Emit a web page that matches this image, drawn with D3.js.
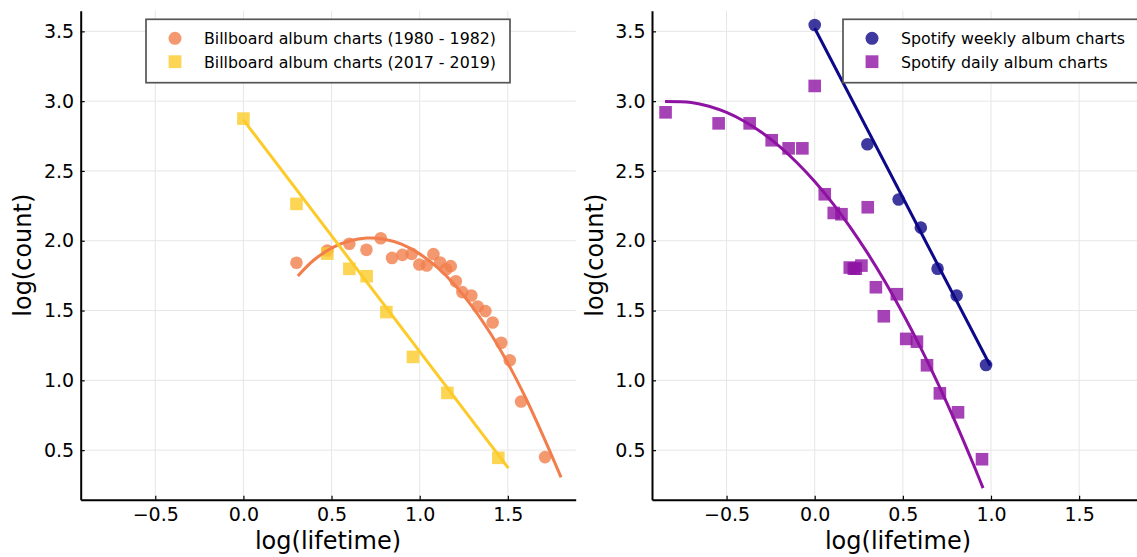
<!DOCTYPE html>
<html>
<head>
<meta charset="utf-8">
<script src="https://cdn.jsdelivr.net/npm/d3@7"></script>
<style>
  html, body { margin: 0; padding: 0; background: #fff; }
  svg { display: block; font-family: "DejaVu Sans", sans-serif; }
</style>
</head>
<body>
<script>
// ---------------- DATA ----------------
const xTicks = [-0.5, 0.0, 0.5, 1.0, 1.5];
const yTicks = [0.5, 1.0, 1.5, 2.0, 2.5, 3.0, 3.5];

// Billboard 1980-1982 (circles)
const bb1980X = [0.301, 0.476, 0.601, 0.698, 0.779, 0.843, 0.902, 0.955, 0.998, 1.040, 1.078, 1.116, 1.150, 1.176, 1.205, 1.242, 1.293, 1.329, 1.373, 1.414, 1.463, 1.511, 1.575, 1.711];
const bb1980Y = [1.842, 1.930, 1.978, 1.935, 2.018, 1.877, 1.899, 1.906, 1.830, 1.823, 1.904, 1.844, 1.796, 1.818, 1.710, 1.632, 1.608, 1.529, 1.496, 1.414, 1.269, 1.144, 0.848, 0.450];
// fitted curve
const bb1980FitX = [0.309, 0.4, 0.5, 0.6, 0.7, 0.8, 0.9, 1.0, 1.1, 1.2, 1.3, 1.4, 1.5, 1.6, 1.7, 1.802];
const bb1980FitY = [1.748, 1.862, 1.947, 1.998, 2.020, 2.011, 1.974, 1.906, 1.809, 1.682, 1.525, 1.339, 1.123, 0.877, 0.602, 0.305];

// Billboard 2017-2019 (squares)
const bb2017X = [0.000, 0.301, 0.476, 0.601, 0.699, 0.811, 0.962, 1.157, 1.446];
const bb2017Y = [2.875, 2.264, 1.908, 1.799, 1.746, 1.489, 1.168, 0.910, 0.445];
const bb2017FitX = [0.0, 1.503];
const bb2017FitY = [2.866, 0.371];

// Spotify weekly (circles)
const spWeeklyX = [0.000, 0.299, 0.476, 0.602, 0.697, 0.805, 0.972];
const spWeeklyY = [3.546, 2.691, 2.295, 2.094, 1.800, 1.607, 1.110];
const spWeeklyFitX = [0.0, 0.996];
const spWeeklyFitY = [3.522, 1.105];

// Spotify daily (squares)
const spDailyX = [-0.846, -0.545, -0.369, -0.244, -0.148, -0.070, 0.000, 0.057, 0.108, 0.152, 0.301, 0.199, 0.222, 0.233, 0.265, 0.347, 0.392, 0.466, 0.519, 0.580, 0.637, 0.710, 0.813, 0.949];
const spDailyY = [2.920, 2.841, 2.841, 2.720, 2.662, 2.662, 3.109, 2.333, 2.199, 2.190, 2.240, 1.808, 1.800, 1.800, 1.822, 1.667, 1.459, 1.617, 1.297, 1.277, 1.108, 0.907, 0.771, 0.435];
const spDailyFitX = [-0.849, -0.7, -0.6, -0.5, -0.4, -0.3, -0.2, -0.1, 0.0, 0.1, 0.2, 0.3, 0.4, 0.5, 0.6, 0.7, 0.8, 0.9, 0.955];
const spDailyFitY = [2.998, 2.991, 2.964, 2.919, 2.856, 2.775, 2.676, 2.559, 2.424, 2.271, 2.100, 1.911, 1.704, 1.479, 1.236, 0.975, 0.696, 0.399, 0.228];

const leftLegend = ["Billboard album charts (1980 - 1982)", "Billboard album charts (2017 - 2019)"];
const rightLegend = ["Spotify weekly album charts", "Spotify daily album charts"];

// ---------------- STYLE ----------------
const C_ORANGE = "#f17e4c";
const C_YELLOW = "#fccb2a";
const C_NAVY = "#0d0887";
const C_PURPLE = "#8f13a3";
const MARK_OP = 0.8;

const W = 1137, H = 557;
const svg = d3.select("body").append("svg").attr("width", W).attr("height", H);

const xDomain = [-0.923, 1.885];
const yDomain = [0.145, 3.648];
const plotTop = 10.7, plotBottom = 499.7;

function zip(xs, ys) { return xs.map((x, i) => [x, ys[i]]); }

function makePanel(left, right, cfg) {
  const g = svg.append("g");
  const x = d3.scaleLinear().domain(xDomain).range([left, right]);
  const y = d3.scaleLinear().domain(yDomain).range([plotBottom, plotTop]);

  // grid
  g.append("g").selectAll("line").data(xTicks).join("line")
    .attr("x1", d => x(d)).attr("x2", d => x(d))
    .attr("y1", plotTop).attr("y2", plotBottom)
    .attr("stroke", "#e6e6e6").attr("stroke-width", 1);
  g.append("g").selectAll("line").data(yTicks).join("line")
    .attr("x1", left).attr("x2", right)
    .attr("y1", d => y(d)).attr("y2", d => y(d))
    .attr("stroke", "#e6e6e6").attr("stroke-width", 1);

  const fmt = d3.format(".1f");
  const xAxis = g.append("g").attr("transform", `translate(0,${plotBottom})`)
    .call(d3.axisBottom(x).tickValues(xTicks).tickFormat(fmt).tickSizeInner(-4).tickSizeOuter(0).tickPadding(8));
  const yAxis = g.append("g").attr("transform", `translate(${left},0)`)
    .call(d3.axisLeft(y).tickValues(yTicks).tickFormat(fmt).tickSizeInner(-4).tickSizeOuter(0).tickPadding(6.5));
  [xAxis, yAxis].forEach(a => {
    a.select(".domain").attr("stroke", "#000").attr("stroke-width", 2);
    a.selectAll(".tick line").attr("stroke", "#000").attr("stroke-width", 1.2);
    a.selectAll(".tick text").attr("fill", "#000").style("font-size", "19px")
      .style("font-family", "DejaVu Sans, sans-serif");
  });

  // axis titles
  g.append("text").attr("x", cfg.xTitleX)
    .attr("y", 549).attr("text-anchor", "middle")
    .style("font-size", "24px").text("log(lifetime)");
  g.append("text").attr("transform", `translate(${left - 49.5},${(plotTop + plotBottom) / 2}) rotate(-90)`)
    .attr("text-anchor", "middle").style("font-size", "24px").text("log(count)");

  // marks
  const plot = g.append("g");
  cfg.series.forEach(s => {
    const pts = zip(s.xs, s.ys);
    if (s.shape === "circle") {
      plot.append("g").selectAll("circle").data(pts).join("circle")
        .attr("cx", d => x(d[0])).attr("cy", d => y(d[1])).attr("r", 6.3)
        .attr("fill", s.color).attr("fill-opacity", MARK_OP);
    } else {
      const sz = 12.6;
      plot.append("g").selectAll("rect").data(pts).join("rect")
        .attr("x", d => x(d[0]) - sz / 2).attr("y", d => y(d[1]) - sz / 2)
        .attr("width", sz).attr("height", sz)
        .attr("fill", s.color).attr("fill-opacity", MARK_OP);
    }
  });
  const line = d3.line().x(d => x(d[0])).y(d => y(d[1])).curve(d3.curveCatmullRom);
  cfg.fits.forEach(f => {
    plot.append("path").datum(zip(f.xs, f.ys)).attr("d", line)
      .attr("fill", "none").attr("stroke", f.color).attr("stroke-width", 3)
      .attr("stroke-linecap", "butt");
  });

  // legend
  const lg = g.append("g");
  const L = cfg.legend;
  lg.append("rect").attr("x", L.x).attr("y", 19.3).attr("width", L.w).attr("height", 63.4)
    .attr("fill", "#fff").attr("stroke", "#555").attr("stroke-width", 1.7);
  L.items.forEach((it, i) => {
    const cy = 38.3 + i * 23.4;
    if (it.shape === "circle") {
      lg.append("circle").attr("cx", L.x + 29).attr("cy", cy).attr("r", 6.5)
        .attr("fill", it.color).attr("fill-opacity", MARK_OP);
    } else {
      lg.append("rect").attr("x", L.x + 29 - 6.4).attr("y", cy - 6.4).attr("width", 12.8).attr("height", 12.8)
        .attr("fill", it.color).attr("fill-opacity", MARK_OP);
    }
    lg.append("text").attr("x", L.x + 58).attr("y", cy + 6)
      .style("font-size", "15.8px").attr("fill", "#000").text(it.label);
  });
}

makePanel(80.7, 575.7, {
  xTitleX: 328,
  series: [
    { xs: bb1980X, ys: bb1980Y, shape: "circle", color: C_ORANGE },
    { xs: bb2017X, ys: bb2017Y, shape: "square", color: C_YELLOW }
  ],
  fits: [
    { xs: bb1980FitX, ys: bb1980FitY, color: C_ORANGE },
    { xs: bb2017FitX, ys: bb2017FitY, color: C_YELLOW }
  ],
  legend: { x: 146, w: 364, items: [
    { shape: "circle", color: C_ORANGE, label: leftLegend[0] },
    { shape: "square", color: C_YELLOW, label: leftLegend[1] }
  ] }
});

makePanel(652, 1147, {
  xTitleX: 898,
  series: [
    { xs: spWeeklyX, ys: spWeeklyY, shape: "circle", color: C_NAVY },
    { xs: spDailyX, ys: spDailyY, shape: "square", color: C_PURPLE }
  ],
  fits: [
    { xs: spWeeklyFitX, ys: spWeeklyFitY, color: C_NAVY },
    { xs: spDailyFitX, ys: spDailyFitY, color: C_PURPLE }
  ],
  legend: { x: 843, w: 300, items: [
    { shape: "circle", color: C_NAVY, label: rightLegend[0] },
    { shape: "square", color: C_PURPLE, label: rightLegend[1] }
  ] }
});
</script>
</body>
</html>
